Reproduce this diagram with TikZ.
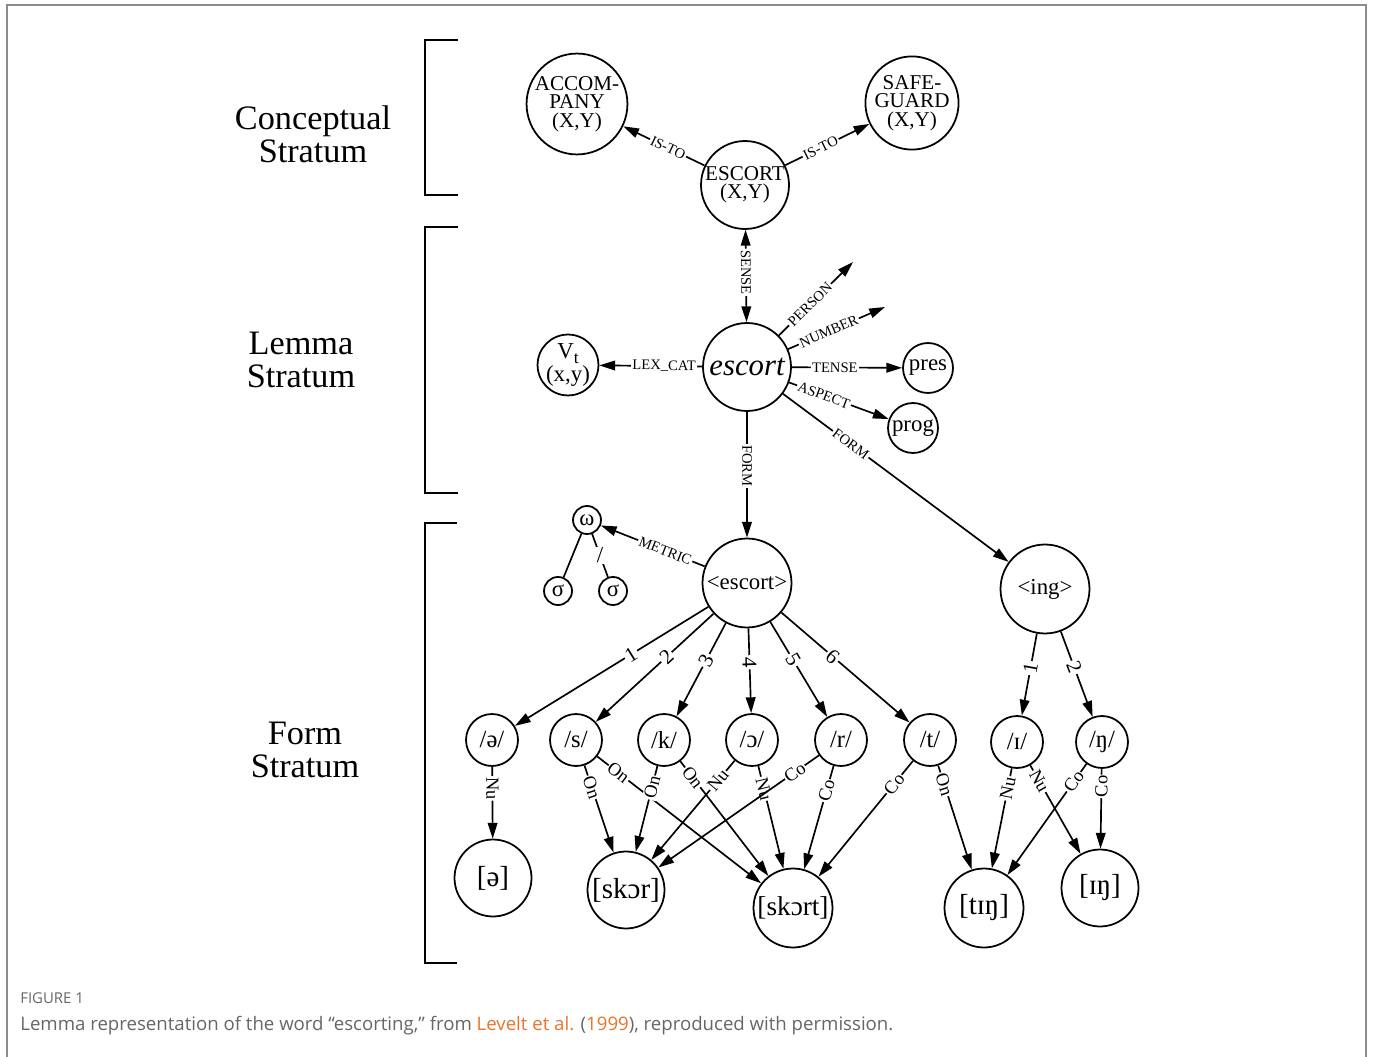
\documentclass[tikz,border=0pt]{standalone}
\usepackage{fontspec}
\setmainfont{Liberation Serif}
\newfontfamily\capfont{Open Sans}
\usetikzlibrary{arrows.meta}

\definecolor{framegray}{HTML}{8C8C8C}
\definecolor{capgray}{HTML}{666666}
\definecolor{linkorange}{HTML}{E8742A}

\tikzset{
  unit/.style={circle, draw, line width=1pt, inner sep=0pt, align=center},
  concept/.style={unit, minimum size=1.76cm, font=\fontsize{12}{10.5}\selectfont},
  feat/.style={unit, minimum size=1.0cm, font=\fontsize{13}{10}\selectfont},
  morph/.style={unit, minimum size=1.78cm, font=\fontsize{13}{13}\selectfont},
  phon/.style={unit, minimum size=1.04cm, font=\fontsize{14}{14}\selectfont},
  syll/.style={unit, minimum size=1.54cm, font=\fontsize{16.5}{16}\selectfont},
  tiny/.style={unit, minimum size=0.56cm, font=\fontsize{13}{13}\selectfont},
  stratum/.style={align=center, font=\fontsize{19.5}{19}\selectfont},
  bracket/.style={line width=1.2pt},
  arr/.style={-{Triangle[length=9pt,width=5.5pt]}, line width=0.95pt},
  lab/.style={sloped, fill=white, inner sep=0.8pt, font=\fontsize{8.3}{9}\selectfont},
  num/.style={sloped, fill=white, inner sep=1pt, font=\fontsize{12}{12}\selectfont},
  role/.style={sloped, fill=white, inner sep=0.6pt, font=\fontsize{10.5}{10.5}\selectfont}
}

\begin{document}
\begin{tikzpicture}[x=0.02cm, y=-0.02cm]
    \useasboundingbox (0,0) rectangle (1373,1057);
    \draw[framegray, line width=1.1pt] (7,1057) -- (7,5) -- (1366,5) -- (1366,1057); % frame

    % strata and brackets
    \node[stratum] (conceptS) at (313,134) {Conceptual\\Stratum};
    \node[stratum] (lemmaS) at (301,360) {Lemma\\Stratum};
    \node[stratum] (formS) at (305,750) {Form\\Stratum};
    \draw[bracket] (458,40) -- (425,40) -- (425,195) -- (458,195);
    \draw[bracket] (458,227) -- (425,227) -- (425,493) -- (458,493);
    \draw[bracket] (457,523) -- (425,523) -- (425,963) -- (457,963);

    % conceptual stratum
    \node[concept] (accompany) at (577,104) {ACCOM-\\PANY\\(X,Y)};
    \node[concept] (safeguard) at (912,103) {SAFE-\\GUARD\\(X,Y)};
    \node[concept] (escortC) at (745,185) {ESCORT\\(X,Y)};
    \draw[arr] (escortC) -- node[lab, pos=.45] {IS-TO} (accompany);
    \draw[arr] (escortC) -- node[lab, pos=.42] {IS-TO} (safeguard);

    % lemma stratum
    \node[concept, font=\fontsize{17.5}{17}\selectfont\itshape] (escortL) at (747,367) {escort};
    \node[feat, minimum size=1.12cm, font=\fontsize{13}{9.5}\selectfont] (vt) at (568,365) {V\raisebox{-0.45ex}{\fontsize{10}{10}\selectfont t}\\(x,y)};
    \node[feat] (pres) at (928,368) {pres};
    \node[feat] (prog) at (913,428) {prog};
    \coordinate (person) at (853,262);
    \coordinate (number) at (885,307);
    \draw[{Triangle[length=9pt,width=5.5pt]}-{Triangle[length=9pt,width=5.5pt]}, line width=0.95pt] (escortC) -- node[lab, pos=.46] {SENSE} (escortL);
    \draw[arr] (escortL) -- node[lab, pos=.37] {LEX\_CAT} (vt);
    \draw[arr] (escortL) -- node[lab, pos=.42] {PERSON} (person);
    \draw[arr] (escortL) -- node[lab, pos=.42] {NUMBER} (number);
    \draw[arr] (escortL) -- node[lab, pos=.39] {TENSE} (pres);
    \draw[arr] (escortL) -- node[lab, pos=.35] {ASPECT} (prog);

    % form stratum
    \node[morph] (morphE) at (747,583) {<escort>};
    \node[morph] (morphI) at (1045,589) {<ing>};
    \draw[arr] (escortL) -- node[lab, pos=.43] {FORM} (morphE);
    \draw[arr] (escortL) -- node[lab, pos=.3] {FORM} (morphI);

    \node[tiny] (omega) at (587,520) {ω};
    \node[tiny] (sigmaL) at (558,591) {σ};
    \node[tiny] (sigmaR) at (613,591) {σ};
    \draw[arr] (morphE) -- node[lab, pos=.38] {METRIC} (omega);
    \draw[line width=0.95pt] (omega) -- (sigmaL);
    \draw[line width=0.95pt] (omega) -- node[fill=white, inner sep=0.5pt, font=\fontsize{13}{13}\selectfont] {/} (sigmaR);

    \node[phon] (schwa) at (492,740) {/ə/};
    \node[phon] (s) at (576,740) {/s/};
    \node[phon] (k) at (664,740) {/k/};
    \node[phon] (oo) at (752,740) {/ɔ/};
    \node[phon] (r) at (841,740) {/r/};
    \node[phon] (t) at (930,740) {/t/};
    \node[phon] (ih) at (1017,742) {/ɪ/};
    \node[phon] (ng) at (1102,742) {/ŋ/};

    \draw[arr] (morphE) -- node[num, pos=.4] {1} (schwa);
    \draw[arr] (morphE) -- node[num, pos=.4] {2} (s);
    \draw[arr] (morphE) -- node[num, pos=.4] {3} (k);
    \draw[arr] (morphE) -- node[num, pos=.4] {4} (oo);
    \draw[arr] (morphE) -- node[num, pos=.4] {5} (r);
    \draw[arr] (morphE) -- node[num, pos=.4] {6} (t);
    \draw[arr] (morphI) -- node[num, pos=.42] {1} (ih);
    \draw[arr] (morphI) -- node[num, pos=.42] {2} (ng);

    \node[syll] (sylSchwa) at (493,878) {[ə]};
    \node[syll] (skor) at (626,890) {[skɔr]};
    \node[syll, minimum size=1.58cm, font=\fontsize{15.5}{15}\selectfont] (skort) at (793,908) {[skɔrt]};
    \node[syll, minimum size=1.58cm] (ting) at (984,908) {[tɪŋ]};
    \node[syll] (ing) at (1100,888) {[ɪŋ]};

    \draw[arr] (schwa) -- node[role, pos=.3] {Nu} (sylSchwa);
    \draw[arr] (s) -- node[role, pos=.25] {On} (skor);
    \draw[arr] (s) -- node[role, pos=.13] {On} (skort);
    \draw[arr] (k) -- node[role, pos=.25] {On} (skor);
    \draw[arr] (k) -- node[role, pos=.14] {On} (skort);
    \draw[arr] (oo) -- node[role, pos=.2] {Nu} (skor);
    \draw[arr] (oo) -- node[role, pos=.22] {Nu} (skort);
    \draw[arr] (r) -- node[role, pos=.15] {Co} (skor);
    \draw[arr] (r) -- node[role, pos=.24] {Co} (skort);
    \draw[arr] (t) -- node[role, pos=.2] {Co} (skort);
    \draw[arr] (t) -- node[role, pos=.18] {On} (ting);
    \draw[arr] (ih) -- node[role, pos=.2] {Nu} (ting);
    \draw[arr] (ih) -- node[role, pos=.18] {Nu} (ing);
    \draw[arr] (ng) -- node[role, pos=.16] {Co} (ting);
    \draw[arr] (ng) -- node[role, pos=.22] {Co} (ing);

    % caption
    \node[anchor=base west, inner sep=0pt, text=capgray, font=\capfont\fontsize{8.5}{10}\selectfont] (figno) at (20,1003) {FIGURE 1};
    \node[anchor=base west, inner sep=0pt, text=capgray, font=\capfont\fontsize{10.6}{12}\selectfont] (caption) at (20,1030)
      {Lemma representation of the word “escorting,” from \textcolor{linkorange}{Levelt et al.} (\textcolor{linkorange}{1999}), reproduced with permission.};
\end{tikzpicture}
\end{document}
